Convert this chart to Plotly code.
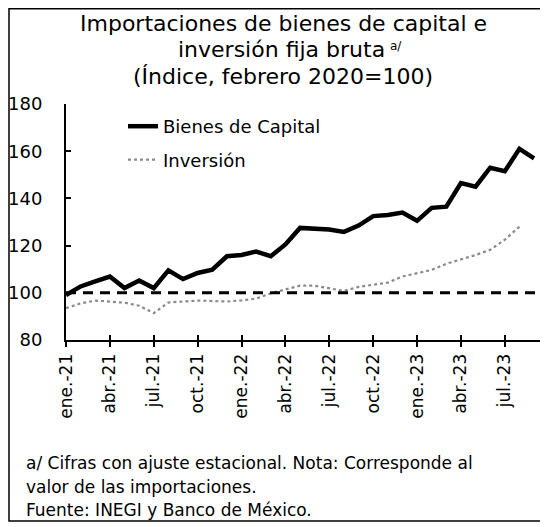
import plotly.graph_objects as go

# monthly index values, feb 2020 = 100
months = [
    "ene.-21", "feb.-21", "mar.-21", "abr.-21", "may.-21", "jun.-21",
    "jul.-21", "ago.-21", "sep.-21", "oct.-21", "nov.-21", "dic.-21",
    "ene.-22", "feb.-22", "mar.-22", "abr.-22", "may.-22", "jun.-22",
    "jul.-22", "ago.-22", "sep.-22", "oct.-22", "nov.-22", "dic.-22",
    "ene.-23", "feb.-23", "mar.-23", "abr.-23", "may.-23", "jun.-23",
    "jul.-23", "ago.-23", "sep.-23",
]
bienes_capital = [
    99.0, 102.7, 104.8, 106.9, 102.0, 105.2, 102.0, 109.5, 105.8, 108.4, 109.8, 115.5,
    116.0, 117.5, 115.5, 120.5, 127.5, 127.3, 126.8, 125.8, 128.5, 132.5, 133.0, 134.0,
    130.5, 136.0, 136.5, 146.5, 145.0, 153.0, 151.5, 161.0, 157.0,
]
inversion = [
    93.5, 95.5, 96.7, 96.4, 95.8, 94.5, 91.4, 95.9, 96.3, 96.7, 96.5, 96.3,
    96.8, 97.5, 99.8, 101.5, 103.0, 103.0, 101.8, 100.8, 102.5, 103.5, 104.3, 106.9,
    108.3, 109.7, 112.3, 114.0, 116.0, 118.2, 122.5, 128.0,
]
tick_months = ["ene.-21", "abr.-21", "jul.-21", "oct.-21", "ene.-22", "abr.-22",
               "jul.-22", "oct.-22", "ene.-23", "abr.-23", "jul.-23"]
y_ticks = [80, 100, 120, 140, 160, 180]
base = 100

FONT = "DejaVu Sans"
W, H = 548, 527
OFF = 8  # page body margin shifts the figure by 8px

# plot area in figure pixels
PL, PR, PT, PB = 66 - OFF, W, 104 - OFF, 340 - OFF


def px_x(x):
    # reference-picture x pixel -> paper coordinate
    return (x - OFF - PL) / (PR - PL)


def px_y(y):
    return (PB - (y - OFF)) / (PB - PT)


fig = go.Figure()
fig.add_trace(go.Scatter(
    x=months, y=bienes_capital, name="Bienes de Capital", mode="lines",
    line=dict(color="black", width=4.5), legendgroup="a",
))
fig.add_trace(go.Scatter(
    x=months[:len(inversion)], y=inversion, name="Inversión", mode="lines",
    line=dict(color="#8a8a8a", width=2.2, dash="dot"), legendgroup="b",
))
# invisible copy so the overlay axis (inner half of the x ticks) gets drawn
fig.add_trace(go.Scatter(
    x=months, y=bienes_capital, xaxis="x2", mode="lines",
    line=dict(width=0), opacity=0, showlegend=False, hoverinfo="skip",
))

fig.add_hline(y=base, line=dict(color="black", width=3, dash="10px,7px"))

# scan frame
fig.add_shape(type="rect", xref="paper", yref="paper",
              x0=px_x(9), x1=px_x(570), y0=px_y(521), y1=px_y(OFF + 0.8),
              line=dict(color="black", width=1.5))

# title, one annotation per line (x centre, y centre, size, anchor)
title_lines = [
    ("Importaciones de bienes de capital e", 283, 23, 22, "center"),
    ("inversión fija bruta", 281, 50, 22, "center"),
    ("a/", 388, 46, 12, "left"),
    ("(Índice, febrero 2020=100)", 283, 76, 22, "center"),
]
for t, xc, yc, sz, anchor in title_lines:
    fig.add_annotation(
        text=t, xref="paper", yref="paper", x=px_x(xc), y=px_y(yc),
        xanchor=anchor, yanchor="middle", showarrow=False,
        font=dict(family=FONT, size=sz, color="black"),
    )

notes = [
    ("a/ Cifras con ajuste estacional. Nota: Corresponde al", 463),
    ("valor de las importaciones.", 487),
    ("Fuente: INEGI y Banco de México.", 510),
]
for t, yc in notes:
    fig.add_annotation(
        text=t, xref="paper", yref="paper", x=px_x(24), y=px_y(yc),
        xanchor="left", yanchor="middle", showarrow=False,
        font=dict(family=FONT, size=17, color="black"),
    )

xaxis_common = dict(
    type="category", categoryorder="array", categoryarray=months,
    range=[0, 33.5], tickvals=tick_months,
)

fig.update_layout(
    width=W, height=H,
    margin=dict(l=PL, r=W - PR, t=PT, b=H - PB),
    paper_bgcolor="white", plot_bgcolor="white",
    font=dict(family=FONT, color="black"),
    xaxis=dict(
        **xaxis_common, ticktext=tick_months, tickangle=-90,
        showline=True, linecolor="black", linewidth=2,
        ticks="outside", ticklen=5, tickwidth=1.5, tickcolor="black",
        showgrid=False, zeroline=False,
        tickfont=dict(family=FONT, size=17, color="black"),
    ),
    xaxis2=dict(
        **xaxis_common, overlaying="x", anchor="y", side="bottom",
        showline=False, showticklabels=False, showgrid=False, zeroline=False,
        ticks="inside", ticklen=5, tickwidth=1.5, tickcolor="black",
    ),
    yaxis=dict(
        range=[80, 180], tickvals=y_ticks,
        showline=True, linecolor="black", linewidth=2,
        ticks="inside", ticklen=5, tickwidth=1.5, tickcolor="black",
        ticklabelstandoff=18, showgrid=False, zeroline=False,
        tickfont=dict(family=FONT, size=18, color="black"),
    ),
    legend=dict(
        x=px_x(123), y=px_y(108), xanchor="left", yanchor="top",
        bgcolor="rgba(0,0,0,0)", tracegroupgap=7,
        font=dict(family=FONT, size=18, color="black"),
    ),
    showlegend=True,
)

fig.write_html("out.html")
